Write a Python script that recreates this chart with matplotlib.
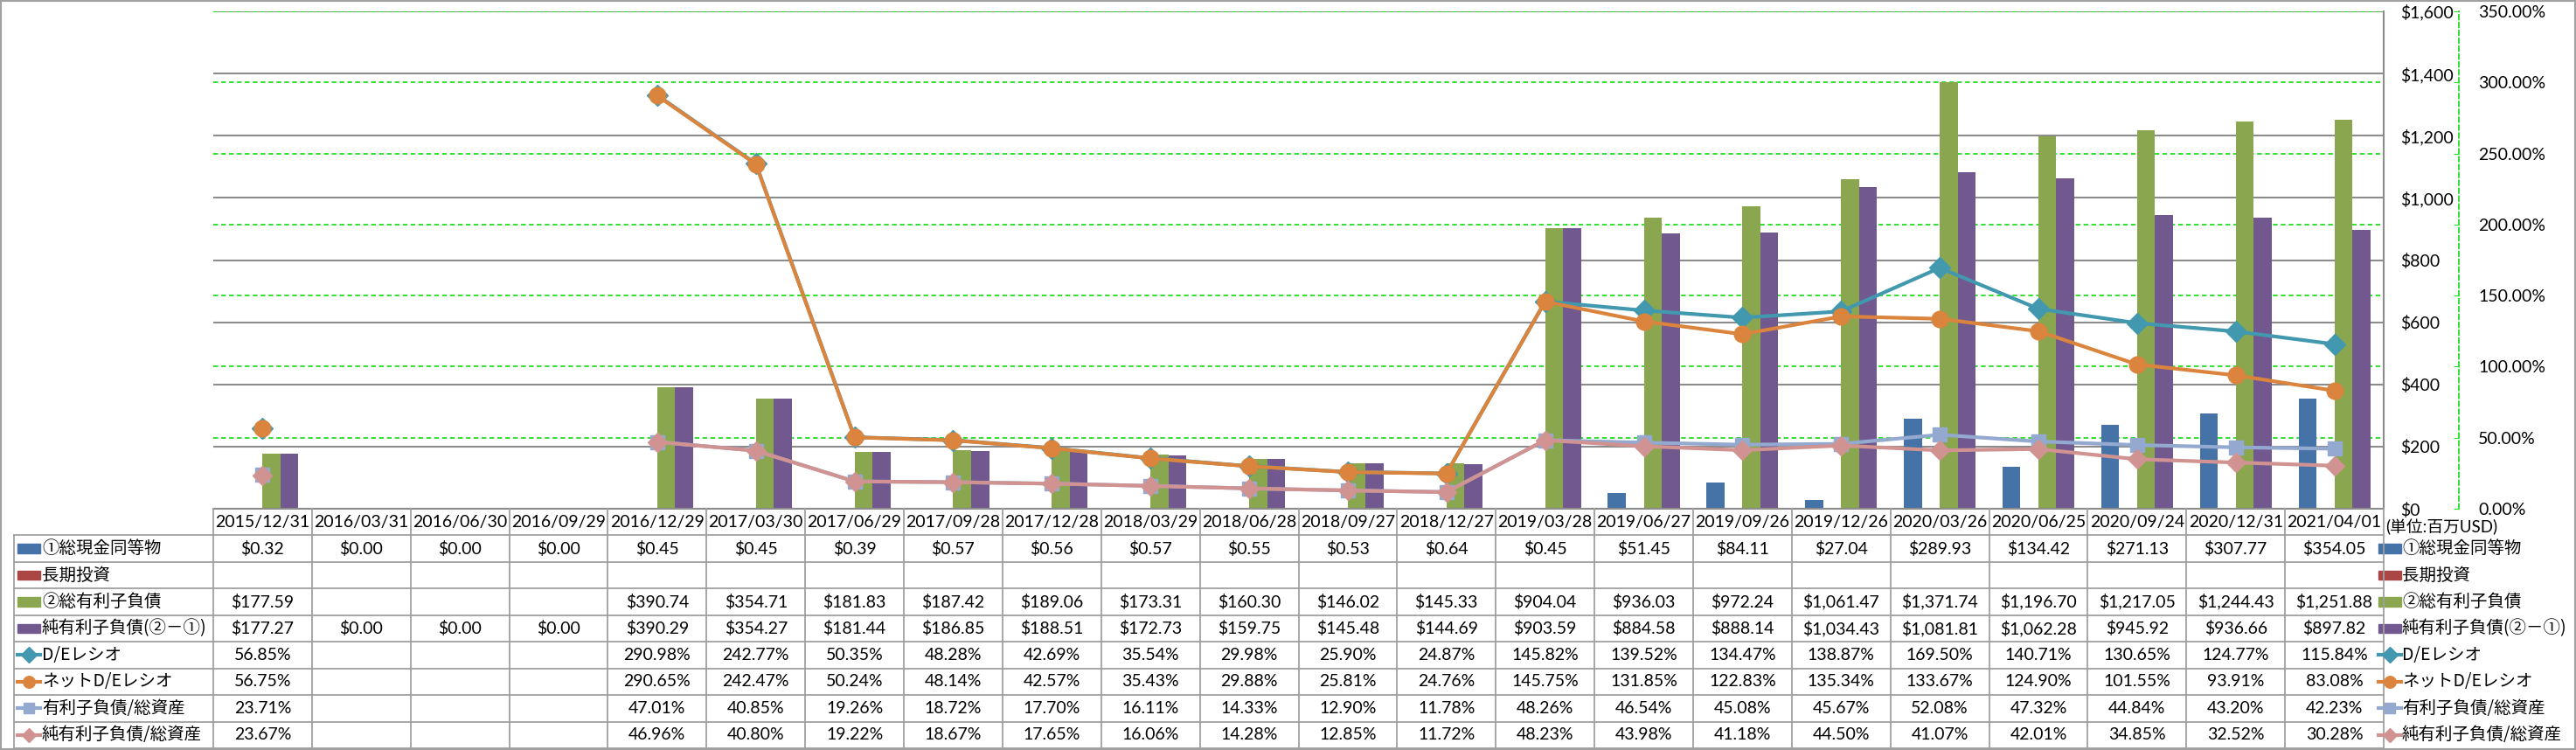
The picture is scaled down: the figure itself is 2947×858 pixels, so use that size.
import numpy as np
import matplotlib.pyplot as plt
from matplotlib.lines import Line2D
from matplotlib.patches import Rectangle
from matplotlib.ticker import FuncFormatter

dates = ['2015/12/31', '2016/03/31', '2016/06/30', '2016/09/29', '2016/12/29', '2017/03/30',
         '2017/06/29', '2017/09/28', '2017/12/28', '2018/03/29', '2018/06/28', '2018/09/27',
         '2018/12/27', '2019/03/28', '2019/06/27', '2019/09/26', '2019/12/26', '2020/03/26',
         '2020/06/25', '2020/09/24', '2020/12/31', '2021/04/01']

cash = [0.32, 0.00, 0.00, 0.00, 0.45, 0.45, 0.39, 0.57, 0.56, 0.57, 0.55, 0.53,
        0.64, 0.45, 51.45, 84.11, 27.04, 289.93, 134.42, 271.13, 307.77, 354.05]
invest = [None, None, None, None, None, None, None, None, None, None, None, None,
          None, None, None, None, None, None, None, None, None, None]
total_debt = [177.59, None, None, None, 390.74, 354.71, 181.83, 187.42, 189.06, 173.31, 160.30, 146.02,
              145.33, 904.04, 936.03, 972.24, 1061.47, 1371.74, 1196.70, 1217.05, 1244.43, 1251.88]
net_debt = [177.27, 0.00, 0.00, 0.00, 390.29, 354.27, 181.44, 186.85, 188.51, 172.73, 159.75, 145.48,
            144.69, 903.59, 884.58, 888.14, 1034.43, 1081.81, 1062.28, 945.92, 936.66, 897.82]

de_ratio = [56.85, None, None, None, 290.98, 242.77, 50.35, 48.28, 42.69, 35.54, 29.98, 25.90,
            24.87, 145.82, 139.52, 134.47, 138.87, 169.50, 140.71, 130.65, 124.77, 115.84]
net_de_ratio = [56.75, None, None, None, 290.65, 242.47, 50.24, 48.14, 42.57, 35.43, 29.88, 25.81,
                24.76, 145.75, 131.85, 122.83, 135.34, 133.67, 124.90, 101.55, 93.91, 83.08]
debt_assets = [23.71, None, None, None, 47.01, 40.85, 19.26, 18.72, 17.70, 16.11, 14.33, 12.90,
               11.78, 48.26, 46.54, 45.08, 45.67, 52.08, 47.32, 44.84, 43.20, 42.23]
net_debt_assets = [23.67, None, None, None, 46.96, 40.80, 19.22, 18.67, 17.65, 16.06, 14.28, 12.85,
                   11.72, 48.23, 43.98, 41.18, 44.50, 41.07, 42.01, 34.85, 32.52, 30.28]

bar_names = ['①総現金同等物', '長期投資', '②総有利子負債', '純有利子負債(②－①)']
line_names = ['D/Eレシオ', 'ネットD/Eレシオ', '有利子負債/総資産', '純有利子負債/総資産']
dollar_ticks = [0, 200, 400, 600, 800, 1000, 1200, 1400, 1600]
pct_ticks = [0, 50, 100, 150, 200, 250, 300, 350]
unit_note = '(単位:百万USD)'

bar_colors = ['#4572A7', '#AA4643', '#8AA64F', '#71588F']
line_styles = [('#4198AF', 'D', 12.5), ('#DB843D', 'o', 13.5), ('#93A9CF', 's', 12), ('#D19392', 'D', 11.5)]

JP = 'Noto Sans CJK JP'
plt.rcParams['font.family'] = ['Lato', JP, 'DejaVu Sans']


def num(v):
    return np.nan if v is None else v


W, H = 2947, 858
L, R, T, B = 244, 2727, 13, 582
TB = 856
fig = plt.figure(figsize=(W / 100, H / 100), dpi=100)

ax = fig.add_axes([L / W, 1 - B / H, (R - L) / W, (B - T) / H])
n = len(dates)
x = np.arange(n)
ax.set_xlim(-0.5, n - 0.5)
ax.set_ylim(0, 1600)

# bars
w = 1 / 5.5
bar_series = [cash, invest, total_debt, net_debt]
for i, (vals, col) in enumerate(zip(bar_series, bar_colors)):
    ax.bar(x + (i - 1.5) * w, [num(v) for v in vals], width=w, color=col, zorder=2)

ax.set_xticks([])
ax.grid(axis='y', color='#8c8c8c', lw=1.5, zorder=0)
ax.set_axisbelow(True)
for p in pct_ticks[1:]:
    ax.axhline(p * 1600 / 350, color='#22dd22', ls=(0, (3, 2)), lw=1.3, zorder=1)
for s in ['left', 'top']:
    ax.spines[s].set_visible(False)
for s in ['right', 'bottom']:
    ax.spines[s].set_color('#8c8c8c')
    ax.spines[s].set_linewidth(1.5)

ax2 = ax.twinx()
ax2.set_ylim(0, 350)
ax2.set_yticks(pct_ticks)
ax2.yaxis.set_major_formatter(FuncFormatter(lambda v, p: f'{v:.2f}%'))
ax2.tick_params(axis='y', direction='in', length=4, color='#22dd22', pad=16, labelsize=14)
for s in ['left', 'top', 'bottom']:
    ax2.spines[s].set_visible(False)
ax2.spines['right'].set_position(('outward', 62))
ax2.spines['right'].set_color('#22dd22')
ax2.spines['right'].set_linestyle((0, (3, 2)))
ax2.spines['right'].set_linewidth(1.3)

# primary ($) axis labels sit on the right, next to the plot edge
ax.set_yticks(dollar_ticks)
ax.yaxis.set_major_formatter(FuncFormatter(lambda v, p: f'${v:,.0f}'))
ax.yaxis.tick_right()
ax.tick_params(axis='y', left=False, labelleft=False, right=True, labelright=True,
               length=0, pad=14, labelsize=14)

line_series = [de_ratio, net_de_ratio, debt_assets, net_debt_assets]
for vals, (col, mk, ms) in zip(line_series, line_styles):
    ax2.plot(x, [num(v) for v in vals], color=col, lw=3.0, marker=mk, ms=ms,
             mec=col, mfc=col, zorder=3)

# data table
tab = fig.add_axes([16 / W, 1 - TB / H, (R - 16) / W, (TB - B) / H])
cw = (R - L) / n


def px2x(p):
    return -0.5 + (p - L) / cw


left_x = px2x(16)
tab.set_xlim(left_x, n - 0.5)
tab.set_ylim(9, 0)
tab.axis('off')

tcol = '#a0a0a0'
for r in range(1, 10):
    tab.plot([left_x, n - 0.5], [r, r], color=tcol, lw=1.3, clip_on=False)
for k in range(n + 1):
    tab.plot([k - 0.5, k - 0.5], [0, 9], color=tcol, lw=1.3, clip_on=False)
tab.plot([left_x, left_x], [1, 9], color=tcol, lw=1.3, clip_on=False)

fs = 14
for i, d in enumerate(dates):
    tab.text(i, 0.5, d, ha='center', va='center', fontsize=fs)

dollar_rows = [cash, invest, total_debt, net_debt]
pct_rows = [de_ratio, net_de_ratio, debt_assets, net_debt_assets]
for r, vals in enumerate(dollar_rows):
    for i, v in enumerate(vals):
        if v is not None:
            tab.text(i, r + 1.5, f'${v:,.2f}', ha='center', va='center', fontsize=fs)
for r, vals in enumerate(pct_rows):
    for i, v in enumerate(vals):
        if v is not None:
            tab.text(i, r + 5.5, f'{v:.2f}%', ha='center', va='center', fontsize=fs)


def legend_keys(x0, xt):
    kw = 26 / cw
    for r, (nm, col) in enumerate(zip(bar_names, bar_colors)):
        tab.add_patch(Rectangle((x0, r + 1.33), kw, 0.34, color=col, clip_on=False))
        tab.text(xt, r + 1.5, nm, ha='left', va='center', fontsize=14, family=[JP])
    for r, (nm, (col, mk, ms)) in enumerate(zip(line_names, line_styles)):
        tab.add_line(Line2D([x0, x0 + kw], [r + 5.5, r + 5.5], color=col, lw=3.0,
                            clip_on=False))
        tab.add_line(Line2D([x0 + kw / 2], [r + 5.5], color=col, marker=mk, ms=ms * 0.72,
                            clip_on=False))
        tab.text(xt, r + 5.5, nm, ha='left', va='center', fontsize=14, family=[JP])


legend_keys(px2x(20), px2x(48))
legend_keys(px2x(2721), px2x(2748))

fig.text(2729 / W, 1 - 603 / H, unit_note, ha='left', va='center', fontsize=13.5,
         family=['Lato', JP])

fig.patches.append(Rectangle((0.0004, 0.0012), 0.9992, 0.9976, transform=fig.transFigure,
                             fill=False, ec='#a0a0a0', lw=1.5))

fig.savefig('out.png', dpi=100)
